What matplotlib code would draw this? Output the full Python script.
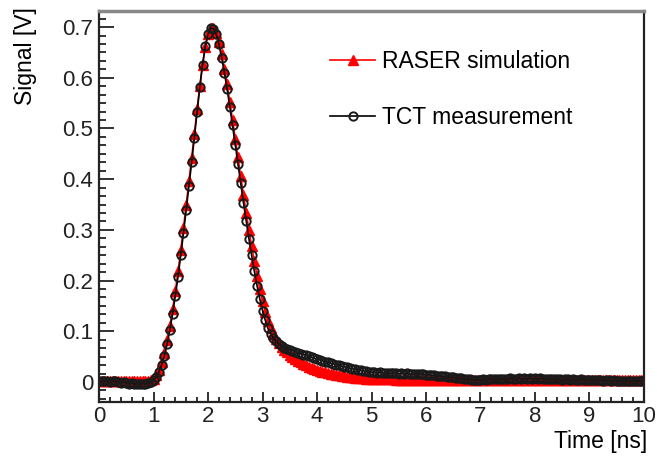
import numpy as np
import matplotlib
matplotlib.use("Agg")
import matplotlib.pyplot as plt
from matplotlib.ticker import MultipleLocator, AutoMinorLocator, FuncFormatter

plt.rcParams['font.family'] = ['Liberation Sans', 'DejaVu Sans']

# sampling step of both waveforms [ns]
dt = 0.05

# TCT measurement [V], one row = 0.5 ns
tct = [
    0.002, 0.001, 0.002, 0.001, 0.000, 0.002, 0.001, 0.000, -0.001, 0.000,
    -0.002, -0.003, -0.002, -0.004, -0.003, -0.004, -0.003, -0.004, -0.002, 0.000,
    0.004, 0.010, 0.020, 0.034, 0.052, 0.075, 0.102, 0.135, 0.170, 0.208,
    0.250, 0.294, 0.340, 0.386, 0.433, 0.482, 0.532, 0.582, 0.626, 0.662,
    0.686, 0.698, 0.697, 0.686, 0.666, 0.640, 0.610, 0.578, 0.543, 0.506,
    0.468, 0.430, 0.392, 0.354, 0.318, 0.283, 0.250, 0.219, 0.190, 0.164,
    0.141, 0.122, 0.106, 0.095, 0.087, 0.080, 0.075, 0.071, 0.068, 0.066,
    0.064, 0.062, 0.060, 0.058, 0.056, 0.054, 0.053, 0.051, 0.049, 0.047,
    0.045, 0.044, 0.042, 0.040, 0.039, 0.037, 0.036, 0.034, 0.033, 0.031,
    0.030, 0.029, 0.027, 0.026, 0.025, 0.024, 0.023, 0.022, 0.021, 0.020,
    0.019, 0.019, 0.018, 0.019, 0.018, 0.017, 0.018, 0.017, 0.018, 0.017,
    0.016, 0.017, 0.016, 0.017, 0.016, 0.015, 0.016, 0.015, 0.016, 0.015,
    0.014, 0.014, 0.013, 0.013, 0.012, 0.012, 0.011, 0.011, 0.010, 0.009,
    0.009, 0.008, 0.007, 0.007, 0.006, 0.005, 0.005, 0.004, 0.004, 0.004,
    0.004, 0.005, 0.004, 0.005, 0.005, 0.006, 0.005, 0.006, 0.006, 0.005,
    0.006, 0.007, 0.006, 0.006, 0.007, 0.006, 0.007, 0.006, 0.007, 0.006,
    0.007, 0.006, 0.007, 0.006, 0.006, 0.005, 0.006, 0.005, 0.006, 0.005,
    0.004, 0.005, 0.005, 0.004, 0.005, 0.004, 0.004, 0.005, 0.004, 0.004,
    0.003, 0.003, 0.004, 0.003, 0.003, 0.002, 0.003, 0.003, 0.002, 0.003,
    0.002, 0.002, 0.001, 0.002, 0.002, 0.001, 0.002, 0.001, 0.002, 0.001,
    0.003,
]

# RASER simulation [V]
raser = [
    0.002, 0.002, 0.001, 0.002, 0.002, 0.001, 0.002, 0.002, 0.001, 0.002,
    0.002, 0.001, 0.002, 0.002, 0.001, 0.002, 0.001, 0.002, 0.002, 0.003,
    0.006, 0.013, 0.024, 0.039, 0.058, 0.082, 0.110, 0.143, 0.179, 0.218,
    0.260, 0.304, 0.350, 0.396, 0.442, 0.490, 0.538, 0.584, 0.626, 0.661,
    0.686, 0.699, 0.698, 0.688, 0.670, 0.646, 0.618, 0.587, 0.553, 0.517,
    0.480, 0.443, 0.406, 0.369, 0.334, 0.300, 0.268, 0.238, 0.210, 0.184,
    0.160, 0.139, 0.121, 0.107, 0.095, 0.085, 0.077, 0.070, 0.064, 0.059,
    0.054, 0.050, 0.046, 0.042, 0.039, 0.036, 0.033, 0.030, 0.028, 0.026,
    0.024, 0.022, 0.020, 0.019, 0.017, 0.016, 0.015, 0.014, 0.013, 0.012,
    0.011, 0.010, 0.009, 0.009, 0.008, 0.008, 0.007, 0.007, 0.006, 0.006,
    0.006, 0.006, 0.005, 0.005, 0.005, 0.005, 0.005, 0.005, 0.005, 0.004,
    0.004, 0.004, 0.004, 0.004, 0.004, 0.004, 0.004, 0.004, 0.004, 0.004,
    0.004, 0.004, 0.004, 0.004, 0.004, 0.003, 0.004, 0.003, 0.003, 0.003,
    0.003, 0.003, 0.003, 0.003, 0.003, 0.003, 0.003, 0.003, 0.003, 0.003,
    0.003, 0.003, 0.003, 0.003, 0.003, 0.003, 0.003, 0.003, 0.003, 0.003,
    0.003, 0.003, 0.003, 0.003, 0.003, 0.003, 0.003, 0.003, 0.003, 0.003,
    0.003, 0.003, 0.003, 0.003, 0.003, 0.003, 0.003, 0.003, 0.003, 0.003,
    0.003, 0.003, 0.003, 0.003, 0.003, 0.003, 0.003, 0.003, 0.003, 0.003,
    0.003, 0.003, 0.003, 0.003, 0.003, 0.003, 0.003, 0.003, 0.003, 0.003,
    0.003, 0.003, 0.003, 0.003, 0.003, 0.003, 0.003, 0.003, 0.003, 0.003,
    0.003,
]

t_tct = np.arange(len(tct)) * dt
t_raser = np.arange(len(raser)) * dt

fig = plt.figure(figsize=(6.57, 4.57), dpi=100)
ax = fig.add_axes([0.1507, 0.1204, 0.8295, 0.8566])

ax.plot(t_raser, raser, color='#ff0000', lw=1.2, marker='^', ms=6.5,
        mec='#ff0000', mfc='#ff0000', label='RASER simulation')
ax.plot(t_tct, tct, color='black', lw=1.2, marker='o', ms=6,
        mec='#1a1a1a', mfc='none', mew=1.4, label='TCT measurement')

ax.set_xlim(0, 10)
ax.set_ylim(-0.0394, 0.7327)

ax.xaxis.set_major_locator(MultipleLocator(1))
ax.xaxis.set_minor_locator(AutoMinorLocator(5))
ax.yaxis.set_major_locator(MultipleLocator(0.1))
ax.yaxis.set_minor_locator(AutoMinorLocator(6))
fmt = FuncFormatter(lambda v, p: f"{v:g}")
ax.xaxis.set_major_formatter(fmt)
ax.yaxis.set_major_formatter(fmt)

ax.tick_params(axis='both', which='both', direction='in', top=False, right=False,
               labelsize=16, colors='#222222', width=1.3)
ax.tick_params(axis='x', which='major', length=7.2, pad=3.0)
ax.tick_params(axis='x', which='minor', length=3.6)
ax.tick_params(axis='y', which='major', length=10.8, pad=4.0)
ax.tick_params(axis='y', which='minor', length=5)

for side in ['left', 'bottom', 'right']:
    ax.spines[side].set_linewidth(1.6)
    ax.spines[side].set_color('#222222')
ax.spines['top'].set_linewidth(2.5)
ax.spines['top'].set_color('#888888')

ax.set_xlabel("Time [ns]", fontsize=16.5, loc='right')
ax.xaxis.set_label_coords(1.006, -0.072)
ax.set_ylabel("Signal [V]", fontsize=16.5, loc='top')
ax.yaxis.set_label_coords(-0.114, 1.008)

ax.legend(loc='upper left', bbox_to_anchor=(0.424, 0.90), frameon=False,
          fontsize=16.5, handlelength=1.96, handletextpad=0.3, labelspacing=1.44,
          borderpad=0, borderaxespad=0)

fig.savefig("out.png", dpi=100)
